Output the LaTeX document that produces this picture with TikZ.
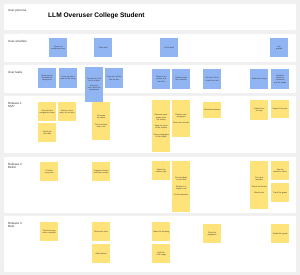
\documentclass[tikz,border=0pt]{standalone}
\usepackage{fontspec}
\setmainfont{Liberation Sans}
\definecolor{bggray}{HTML}{F0F0F0}
\definecolor{taskblue}{HTML}{91B4F2}
\definecolor{storyyellow}{HTML}{FDE37A}
\definecolor{inkgray}{HTML}{333333}
\begin{document}
\begin{tikzpicture}[x=1pt, y=-1pt,
  panel/.style={fill=white, draw=none, rounded corners=0.8pt},
  rowlabel/.style={anchor=north west, align=left, inner sep=0pt, text=inkgray, font=\fontsize{3}{3.6}\selectfont},
  sticky/.style={anchor=north west, minimum width=18pt, minimum height=19pt, inner sep=0.6pt, text width=16pt, align=center, text=inkgray, font=\fontsize{1.9}{2.3}\selectfont},
  activity/.style={sticky, fill=taskblue},
  usertask/.style={sticky, fill=taskblue},
  story/.style={sticky, fill=storyyellow}]
\fill[bggray] (0,0) rectangle (300,275);
% rows of the map
\fill[panel] (4,4) rectangle (296,30);
\fill[panel] (4,34) rectangle (296,62);
\fill[panel] (4,65) rectangle (296,93);
\fill[panel] (4,96) rectangle (296,153);
\fill[panel] (4,157) rectangle (296,213);
\fill[panel] (4,216) rectangle (296,272);
\node[rowlabel] (lblpersona) at (8,9) {User persona};
\node[rowlabel] (lblactivities) at (8,40) {User activities};
\node[rowlabel] (lbltasks) at (8,71) {User tasks};
\node[rowlabel] (lblmvp) at (8,102) {Release 1\\MVP};
\node[rowlabel] (lblbetter) at (8,163) {Release 2\\Better};
\node[rowlabel] (lblbest) at (8,222) {Release 3\\Best};
\node[anchor=west, inner sep=0pt, text=black, font=\fontsize{6.6}{8}\selectfont\bfseries] (persona) at (48,15.5) {LLM Overuser College Student};
% user activities
\node[activity] (figure) at (49,38) {Figure out assignment task};
\node[activity] (draft) at (94,38) {Start draft};
\node[activity] (polish) at (160,38) {Polish draft};
\node[activity] (graded) at (270,38) {Get\\graded};
% user tasks
\node[usertask, minimum height=20pt] (read) at (38,68) {Read and understand the assignment};
\node[usertask, minimum height=20pt] (plan) at (59,68) {Come up with a plan for the essay};
\node[usertask, minimum height=35pt] (outline) at (85,67) {Prompt the LLM for an outline\\[2pt]Ask questions about the assignment};
\node[usertask, minimum height=20pt] (copy) at (105,68) {Copy the outline into the doc};
\node[usertask, minimum height=20pt] (paste) at (152,69) {Paste in the prompt and the draft};
\node[usertask, minimum height=20pt] (response) at (172,69) {Read through the response};
\node[usertask, minimum height=20pt] (rewrite) at (203,69) {Ask the LLM to rewrite the text};
\node[usertask, minimum height=20pt] (submit) at (250,69) {Submit the essay};
\node[usertask, minimum height=20pt] (comments) at (271,69) {Read the teacher's comments and the grade};
% release 1
\node[story] (chat) at (38,102) {Chat with the assignment sheet};
\node[story] (rubric) at (58,102) {Ask for a summary of the rubric};
\node[story] (duedate) at (38,123) {Check the due date};
\node[story, minimum height=38pt] (genoutline) at (92,102) {Generate an outline\\[4pt]Pick the thesis from a list};
\node[story, minimum height=52pt] (genpara) at (152,100) {Generate paragraphs from the outline\\[4pt]Keep the voice of the student\\[4pt]These paragraphs fit the length};
\node[story, minimum height=37pt] (explain) at (172,100) {Explain each paragraph\\[4pt]Check the sources};
\node[story, minimum height=16pt] (reword) at (203,102) {Reword sentences};
\node[story, minimum height=20pt] (fromapp) at (250,100) {Submit from the app};
\node[story, minimum height=18pt] (export) at (271,100) {Export to the doc};
% release 2
\node[story] (keypoints) at (40,162) {Find the key points};
\node[story] (thesis) at (92,162) {Suggest a thesis from past essays};
\node[story] (citation) at (152,161) {Match the citation style};
\node[story, minimum height=51pt] (feedback) at (172,161) {Give feedback on the draft\\[4pt]Rewrite in a simpler tone\\[4pt]Fix the grammar};
\node[story, minimum height=48pt] (schedule) at (250,161) {Set a due reminder\\[4pt]Check the format\\[4pt]Word count};
\node[story] (seerubric) at (271,161) {See the teacher's rubric};
\node[story] (track) at (271,183) {Track the grade};
% release 3
\node[story] (calendar) at (40,222) {Plan the essay with a calendar};
\node[story] (voice) at (92,222) {Write with voice};
\node[story] (cite) at (92,244) {Add citations};
\node[story] (detect) at (152,222) {Detect AI phrasing};
\node[story] (hide) at (152,244) {Hide the LLM usage};
\node[story] (plagiarism) at (203,224) {Check for plagiarism};
\node[story] (predict) at (271,224) {Predict the grade};
\end{tikzpicture}
\end{document}
